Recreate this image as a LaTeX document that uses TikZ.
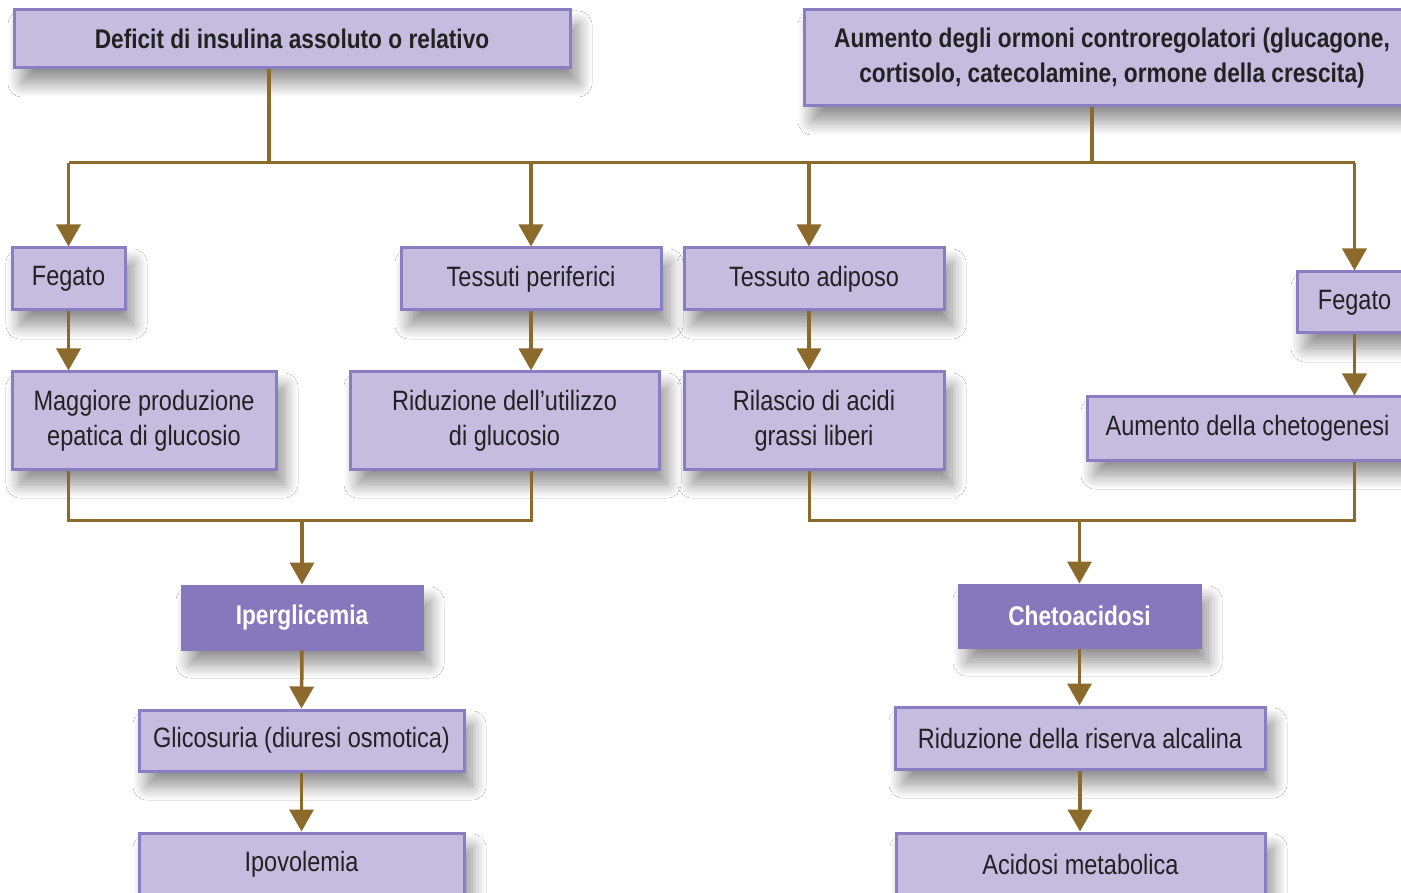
\documentclass[tikz,border=0pt]{standalone}
\usepackage{fontspec}
\setmainfont{Liberation Sans}[FakeStretch=0.84]
\usetikzlibrary{arrows.meta,shadows.blur}
\definecolor{boxfill}{HTML}{C5BCDF}
\definecolor{boxline}{HTML}{8A7EC2}
\definecolor{darkfill}{HTML}{8778BD}
\definecolor{arrowc}{HTML}{8C6A2B}
\definecolor{txt}{HTML}{222222}
\tikzset{
  box/.style={draw=boxline, fill=boxfill, line width=3pt, inner sep=0pt, align=center,
    text=txt, font=\fontsize{28}{35}\selectfont,
    blur shadow={shadow xshift=8pt, shadow yshift=-15pt, shadow blur radius=14pt, shadow opacity=45, shadow blur steps=20}},
  boldbox/.style={box, font=\fontsize{27}{35}\selectfont\bfseries},
  darkbox/.style={box, fill=darkfill, draw=darkfill, text=white, font=\fontsize{27}{35}\selectfont\bfseries},
  conn/.style={draw=arrowc, line width=3.5pt},
  thinconn/.style={draw=arrowc, line width=3pt},
  arr/.style={conn, -{Triangle[width=24pt,length=22pt]}},
}
\begin{document}
\begin{tikzpicture}[x=1pt,y=-1pt]
\useasboundingbox (0,0) rectangle (1401,893);
\fill[white] (0,0) rectangle (1401,893);
\clip (0,0) rectangle (1401,893);
% top level
\node[boldbox, minimum width=556pt, minimum height=58pt] (def) at (292,39) {Deficit di insulina assoluto o relativo};
\node[boldbox, minimum width=616pt, minimum height=96pt] (orm) at (1112,58) {Aumento degli ormoni controregolatori (glucagone,\\cortisolo, catecolamine, ormone della crescita)};
% second level
\node[box, minimum width=113pt, minimum height=62pt] (fegL) at (68.5,279) {Fegato};
\node[box, minimum width=260pt, minimum height=62pt] (tess) at (531,279) {Tessuti periferici};
\node[box, minimum width=260pt, minimum height=62pt] (adip) at (814,279) {Tessuto adiposo};
\node[box, minimum width=115pt, minimum height=61pt] (fegR) at (1354.5,302.5) {Fegato};
% third level
\node[box, minimum width=264pt, minimum height=97pt] (magg) at (144,420.5) {Maggiore produzione\\epatica di glucosio};
\node[box, minimum width=309pt, minimum height=97pt] (ridu) at (504.5,420.5) {Riduzione dell’utilizzo\\di glucosio};
\node[box, minimum width=260pt, minimum height=97pt] (rila) at (814,420.5) {Rilascio di acidi\\grassi liberi};
\node[box, minimum width=321pt, minimum height=63pt] (cheg) at (1247.5,428.5) {Aumento della chetogenesi};
% results
\node[darkbox, minimum width=240pt, minimum height=63pt] (iper) at (302,617.5) {Iperglicemia};
\node[darkbox, minimum width=241pt, minimum height=62pt] (chac) at (1079.5,616) {Chetoacidosi};
\node[box, minimum width=325pt, minimum height=61pt] (glic) at (301.5,740.5) {Glicosuria (diuresi osmotica)};
\node[box, minimum width=325pt, minimum height=62pt] (ipov) at (301.5,864) {Ipovolemia};
\node[box, minimum width=370pt, minimum height=62pt] (risv) at (1080,738) {Riduzione della riserva alcalina};
\node[box, minimum width=369pt, minimum height=62pt] (acid) at (1080.5,864) {Acidosi metabolica};
% junctions
\coordinate (jL) at (269,163);
\coordinate (jR) at (1092,163);
\coordinate (mL) at (306,520);
\coordinate (mR) at (1079,520);
\coordinate (xA) at (809,0);
% top tree
\draw[conn] (def.south -| jL) -- (jL);
\draw[conn] (orm.south -| jR) -- (jR);
\draw[thinconn] (fegL.north |- jL) -- (fegR.north |- jL);
\draw[arr] (fegL.north |- jL) -- (fegL.north);
\draw[arr] (tess.north |- jL) -- (tess.north);
\draw[arr] (xA |- jL) -- (xA |- adip.north);
\draw[arr] (fegR.north |- jL) -- (fegR.north);
% second to third
\draw[arr] (fegL.south) -- (fegL.south |- magg.north);
\draw[arr] (tess.south) -- (tess.south |- ridu.north);
\draw[arr] (xA |- adip.south) -- (xA |- rila.north);
\draw[arr] (fegR.south) -- (fegR.south |- cheg.north);
% merges
\draw[thinconn] (fegL.south |- magg.south) -- (fegL.south |- mL) -- (tess.south |- mL) -- (tess.south |- ridu.south);
\draw[arr] (iper.north |- mL) -- (iper.north);
\draw[thinconn] (xA |- rila.south) -- (xA |- mR) -- (fegR.south |- mR) -- (fegR.south |- cheg.south);
\draw[arr] (chac.north |- mR) -- (chac.north);
% bottom chains
\draw[arr] (iper.south) -- (glic.north);
\draw[arr] (glic.south) -- (ipov.north);
\draw[arr] (chac.south) -- (chac.south |- risv.north);
\draw[arr] (risv.south) -- (risv.south |- acid.north);
\end{tikzpicture}
\end{document}
